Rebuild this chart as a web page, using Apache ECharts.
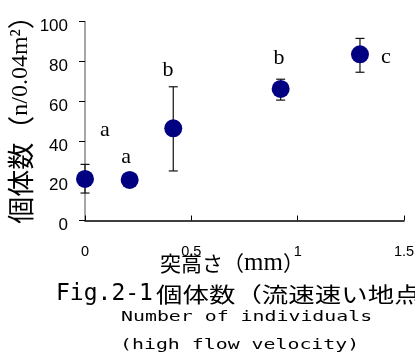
<!DOCTYPE html>
<html>
<head>
<meta charset="utf-8">
<script src="https://cdn.jsdelivr.net/npm/echarts@6/dist/echarts.min.js"></script>
<style>html,body{margin:0;padding:0;background:#fff;}#c{width:415px;height:354px;}</style>
</head>
<body>
<div id="c"></div>
<script>
// Data
const heights = [0, 0.21, 0.415, 0.92, 1.293];          // 突高さ (mm)
const means   = [20.9, 20.4, 46.3, 66.1, 83.5];         // 個体数 mean
const lows    = [13.8, 19.6, 24.9, 60.5, 74.5];         // lower error
const highs   = [28.2, 21.2, 67.2, 71.0, 91.5];         // upper error
const letters = ['a', 'a', 'b', 'b', 'c'];              // significance groups
const letterX = [0.094, 0.193, 0.39, 0.912, 1.415];
const letterY = [45.5, 31.9, 75.6, 81.7, 82.2];
const xTicks = [0, 1.5, 0.5];   // min, max, interval
const yTicks = [0, 100, 20];

const chart = echarts.init(document.getElementById('c'));

const pointData = heights.map((x, i) => [x, means[i]]);
const errData = heights.map((x, i) => [x, lows[i], highs[i]]);
const letterData = letters.map((t, i) => [letterX[i], letterY[i], t]);

const cjk = '"Noto Sans CJK JP", sans-serif';
const serif = '"Liberation Serif", "DejaVu Serif", serif';
const mono = '"DejaVu Sans Mono", monospace';
const sans = '"Liberation Sans", Arial, sans-serif';

chart.setOption({
  animation: false,
  backgroundColor: '#fff',
  grid: { left: 85, right: 11, top: 21.5, bottom: 133.5, containLabel: false, outerBoundsMode: 'none' },
  xAxis: {
    type: 'value', min: xTicks[0], max: xTicks[1], interval: xTicks[2],
    name: '{c|突高さ（}{s|mm}{c|）}',
    nameLocation: 'middle', nameGap: 30, nameMoveOverlap: false,
    nameTextStyle: {
      padding: [0, 25, 0, 0],
      rich: {
        c: { fontFamily: cjk, fontSize: 21, color: '#000' },
        s: { fontFamily: serif, fontSize: 25, color: '#000' }
      }
    },
    axisLine: { lineStyle: { color: '#000', width: 1.5 } },
    axisTick: { inside: true, length: 5, lineStyle: { color: '#000' } },
    axisLabel: { fontFamily: sans, fontSize: 14.5, color: '#000', margin: 24, hideOverlap: false },
    splitLine: { show: false }
  },
  yAxis: {
    type: 'value', min: yTicks[0], max: yTicks[1], interval: yTicks[2],
    name: '{c|個体数（}{s|n/0.04m²}{c|）}',
    nameLocation: 'middle', nameGap: 51, nameRotate: 90, nameMoveOverlap: false,
    nameTextStyle: {
      padding: [0, 0, 0, 16],
      rich: {
        c: { fontFamily: cjk, fontSize: 27, color: '#000' },
        s: { fontFamily: serif, fontSize: 24, color: '#000' }
      }
    },
    axisLine: { lineStyle: { color: '#888', width: 1.5 } },
    axisTick: { inside: false, length: 6, lineStyle: { color: '#000' } },
    axisLabel: { fontFamily: sans, fontSize: 17, color: '#000', margin: 17, verticalAlign: 'top', lineHeight: 10 },
    splitLine: { show: false }
  },
  series: [
    {
      type: 'custom',
      z: 1,
      data: errData,
      renderItem: function (params, api) {
        const x = api.value(0);
        const lo = api.coord([x, api.value(1)]);
        const hi = api.coord([x, api.value(2)]);
        const w = 4.5;
        const st = { stroke: '#111', lineWidth: 1.2 };
        return {
          type: 'group',
          children: [
            { type: 'line', shape: { x1: lo[0], y1: lo[1], x2: hi[0], y2: hi[1] }, style: st },
            { type: 'line', shape: { x1: lo[0] - w, y1: lo[1], x2: lo[0] + w, y2: lo[1] }, style: st },
            { type: 'line', shape: { x1: hi[0] - w, y1: hi[1], x2: hi[0] + w, y2: hi[1] }, style: st }
          ]
        };
      }
    },
    {
      type: 'scatter',
      z: 3,
      data: pointData,
      symbol: 'circle',
      symbolSize: 18,
      itemStyle: { color: '#000080', opacity: 1 }
    },
    {
      type: 'custom',
      z: 4,
      data: letterData,
      renderItem: function (params, api) {
        const p = api.coord([api.value(0), api.value(1)]);
        return {
          type: 'text',
          x: p[0], y: p[1],
          style: {
            text: letters[params.dataIndex],
            fontFamily: serif, fontSize: 22, fill: '#000',
            textAlign: 'center', textVerticalAlign: 'middle'
          }
        };
      }
    }
  ],
  graphic: [
    {
      type: 'text', x: 56, y: 294, scaleX: 1.0,
      style: { text: 'Fig.2-1', fontFamily: mono, fontSize: 23, fill: '#000', textAlign: 'left', textVerticalAlign: 'middle' }
    },
    {
      type: 'text', x: 156, y: 294, scaleX: 1.26,
      style: { text: '個体数（流速速い地点）', fontFamily: cjk, fontSize: 21, fill: '#000', textAlign: 'left', textVerticalAlign: 'middle' }
    },
    {
      type: 'text', x: 121, y: 317, scaleX: 1.37,
      style: { text: 'Number of individuals', fontFamily: mono, fontSize: 14.5, fill: '#000', textAlign: 'left', textVerticalAlign: 'middle' }
    },
    {
      type: 'text', x: 120, y: 345, scaleX: 1.37,
      style: { text: '(high flow velocity)', fontFamily: mono, fontSize: 14.5, fill: '#000', textAlign: 'left', textVerticalAlign: 'middle' }
    }
  ]
});
</script>
</body>
</html>
